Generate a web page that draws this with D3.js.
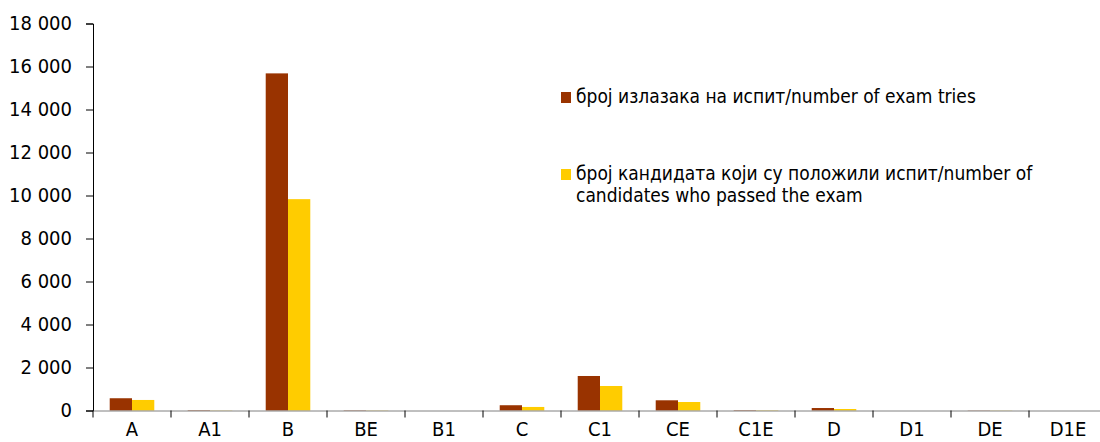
<!DOCTYPE html>
<html>
<head>
<meta charset="utf-8">
<script src="https://cdn.jsdelivr.net/npm/d3@7"></script>
<style>
  body { margin: 0; background: #fff; }
  svg text { font-family: "DejaVu Sans Condensed", "DejaVu Sans", sans-serif; font-stretch: condensed; fill: #000; }
</style>
</head>
<body>
<div id="chart"></div>
<script>
// categories and series
const categories = ["A", "A1", "B", "BE", "B1", "C", "C1", "CE", "C1E", "D", "D1", "DE", "D1E"];
const examTries = [570, 20, 15680, 15, 0, 245, 1605, 475, 20, 115, 0, 10, 0];
const passed = [490, 10, 9830, 10, 0, 165, 1140, 395, 15, 70, 0, 8, 0];
const seriesNames = [
  ["број излазака на испит/number of exam tries"],
  ["број кандидата који су положили испит/number of", "candidates who passed the exam"]
];
const colors = ["#993300", "#FFCC00"];
const yTicks = [0, 2000, 4000, 6000, 8000, 10000, 12000, 14000, 16000, 18000];

const width = 1100;
const height = 442;
const margin = { left: 93, top: 23.5 };
const plotRight = 1107;
const plotBottom = 410.5;

const svg = d3.select("#chart")
  .append("svg")
  .attr("width", width)
  .attr("height", height);

const xScale = d3.scaleBand()
  .domain(categories)
  .range([margin.left, plotRight]);

const xInner = d3.scaleBand()
  .domain([0, 1])
  .range([0, xScale.bandwidth()])
  .paddingInner(0)
  .paddingOuter(0.75);

const yScale = d3.scaleLinear()
  .domain([0, 18000])
  .range([plotBottom, margin.top]);

const fmt = d => d3.format(",")(d).replace(/,/g, " ");

// bars
const rows = categories.map((c, i) => ({ cat: c, vals: [examTries[i], passed[i]] }));

const groups = svg.selectAll("g.grp")
  .data(rows)
  .enter()
  .append("g")
  .attr("class", "grp")
  .attr("transform", d => `translate(${xScale(d.cat)},0)`);

groups.selectAll("rect")
  .data(d => d.vals.map((v, k) => ({ v, k })))
  .enter()
  .append("rect")
  .attr("x", d => xInner(d.k))
  .attr("y", d => yScale(d.v))
  .attr("width", xInner.bandwidth())
  .attr("height", d => plotBottom - yScale(d.v))
  .attr("fill", d => colors[d.k]);

// y axis
const yAxis = svg.append("g")
  .attr("transform", `translate(${margin.left},0)`)
  .call(d3.axisLeft(yScale).tickValues(yTicks).tickFormat(fmt).tickSizeOuter(0).tickSize(7).tickPadding(14));
yAxis.select(".domain").attr("stroke", "#000");
yAxis.selectAll("text").style("font-size", "20px");

// x axis
const xAxis = svg.append("g")
  .attr("transform", `translate(0,${plotBottom})`)
  .call(d3.axisBottom(xScale).tickSize(0).tickPadding(11));
xAxis.select(".domain").attr("stroke", "#808080");
xAxis.selectAll("text").style("font-size", "20px");

// x tick marks at category boundaries
xAxis.selectAll("line.bound")
  .data(categories)
  .enter()
  .append("line")
  .attr("class", "bound")
  .attr("x1", d => xScale(d))
  .attr("x2", d => xScale(d))
  .attr("y1", 0)
  .attr("y2", 7)
  .attr("stroke", "#000");

// legend
const legend = svg.append("g");
const legendY = [103, 180];
seriesNames.forEach((lines, k) => {
  legend.append("rect")
    .attr("x", 561)
    .attr("y", legendY[k] - 11)
    .attr("width", 10)
    .attr("height", 11)
    .attr("fill", colors[k]);
  lines.forEach((t, j) => {
    legend.append("text")
      .attr("x", 576)
      .attr("y", legendY[k] + j * 22)
      .style("font-size", "19px")
      .text(t);
  });
});
</script>
</body>
</html>
